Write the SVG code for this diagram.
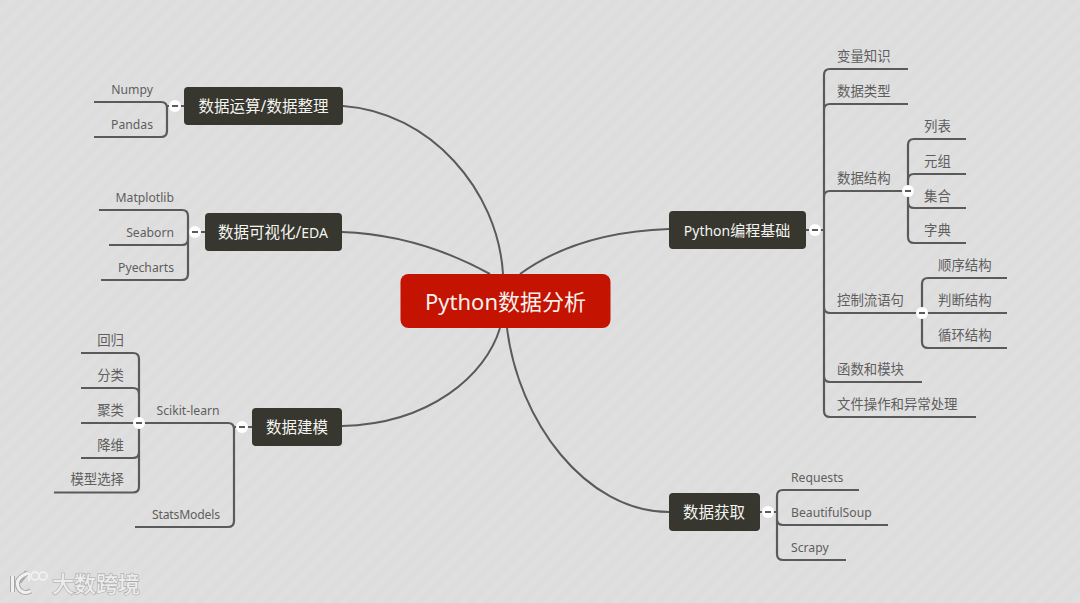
<svg xmlns="http://www.w3.org/2000/svg" width="1080" height="603" viewBox="0 0 1080 603">
<style>
text{font-family:"Noto Sans","Noto Sans CJK SC",sans-serif}
.l{fill:none;stroke:#5a5a5a;stroke-width:2.200}
.m{fill:none;stroke:#5a5a5a;stroke-width:2}
.t{font-size:13.400px;fill:#5e5e5e}
.a{font-size:12.200px;fill:#5e5e5e}
.e{text-anchor:end}
.b{fill:#37372f}
.w{font-size:15.500px;fill:#f4f4ef;text-anchor:middle}
.c{fill:#fff}
.d{stroke:#5a5a5a;stroke-width:2}
.wm{font-size:22px;font-weight:500;fill:#ececec;stroke:#a9a9a9;stroke-width:1.200;paint-order:stroke}
</style>
<defs>
<pattern id="bg" width="12" height="12" patternUnits="userSpaceOnUse" patternTransform="rotate(45)">
<rect width="12" height="12" fill="#dfdfdf"/><rect width="6" height="12" fill="#dddddd"/>
</pattern>
<g id="tg"><circle class="c" r="6"/><path class="d" d="M-3 0H3"/></g>
</defs>
<rect width="1080" height="603" fill="url(#bg)"/>
<g id="connectors">
<path class="m" d="M503 274C498 190 430 112 343 106"/>
<path class="m" d="M490 274C450 252 400 234 342 232"/>
<path class="m" d="M520 274C560 245 610 231 669 229"/>
<path class="m" d="M500 328C486 375 430 424 342 426"/>
<path class="m" d="M507 328C518 420 585 512 669 512"/>
<path class="l" d="M94 102H161Q167 102 167 108V131Q167 137 161 137H94M167 106H184"/>
<path class="l" d="M99 210H182Q188 210 188 216V274Q188 280 182 280H101M109 245H182Q188 245 188 239M188 232H205"/>
<path class="l" d="M135 527H228Q234 527 234 521V429Q234 423 228 423H81M234 427H252"/>
<path class="l" d="M81 353H133Q139 353 139 359V486.500Q139 492.500 133 492.500H54M81 388H133Q139 388 139 394M81 458H133Q139 458 139 452"/>
<path class="l" d="M908 69H830Q824 69 824 75V411Q824 417 830 417H976M908 104H830Q824 104 824 110M908 191H830Q824 191 824 197M922 313H830Q824 313 824 307M922 382H830Q824 382 824 376M806 230H824"/>
<path class="l" d="M966 139H914Q908 139 908 145V237Q908 243 914 243H966M966 174H914Q908 174 908 180M966 208H914Q908 208 908 202"/>
<path class="l" d="M1007 278H928Q922 278 922 284V342Q922 348 928 348H1007M1007 313H922"/>
<path class="l" d="M859 490H783Q777 490 777 496V554Q777 560 783 560H846M888 525H783Q777 525 777 519M760 512H777"/>
</g>
<g id="root"><rect x="400.500" y="274" width="210" height="54" rx="8" fill="#c41300"/><text x="505.500" y="310" font-size="22" fill="#f6f0ec" text-anchor="middle">Python数据分析</text></g>
<g id="n-calc"><rect class="b" x="184" y="87" width="159" height="38" rx="4"/><text class="w" x="263.500" y="112">数据运算/数据整理</text><use href="#tg" x="175" y="106"/></g>
<g id="n-viz"><rect class="b" x="205" y="213" width="137" height="38" rx="4"/><text class="w" x="273" y="238">数据可视化/<tspan font-size="14">EDA</tspan></text><use href="#tg" x="195" y="232"/></g>
<g id="n-model"><rect class="b" x="252" y="408" width="90" height="38" rx="4"/><text class="w" x="297" y="433">数据建模</text><use href="#tg" x="242" y="427"/></g>
<g id="n-base"><rect class="b" x="669" y="211" width="137" height="38" rx="4"/><text class="w" x="737" y="236" style="font-size:15px"><tspan font-size="14">Python</tspan>编程基础</text><use href="#tg" x="815" y="230"/></g>
<g id="n-get"><rect class="b" x="669" y="493" width="91" height="38" rx="4"/><text class="w" x="714" y="518">数据获取</text><use href="#tg" x="768" y="512"/></g>
<g id="n-left-leaves">
<text class="a e" x="153" y="94">Numpy</text><text class="a e" x="153" y="129">Pandas</text>
<text class="a e" x="174" y="202">Matplotlib</text><text class="a e" x="174" y="237">Seaborn</text><text class="a e" x="174" y="272">Pyecharts</text>
<text class="a" x="156.500" y="415">Scikit-learn</text><text class="a e" x="220" y="519" textLength="68">StatsModels</text>
<text class="t e" x="124" y="345">回归</text><text class="t e" x="124" y="380">分类</text><text class="t e" x="124" y="415">聚类</text><text class="t e" x="124" y="449.500">降维</text><text class="t e" x="124" y="484">模型选择</text>
<use href="#tg" x="139" y="423"/>
</g>
<g id="n-right-leaves">
<text class="t" x="837" y="61">变量知识</text><text class="t" x="837" y="95.700">数据类型</text><text class="t" x="837" y="182.700">数据结构</text><text class="t" x="837" y="304.700">控制流语句</text><text class="t" x="837" y="374">函数和模块</text><text class="t" x="837" y="408.700">文件操作和异常处理</text>
<text class="t" x="924" y="130.700">列表</text><text class="t" x="924" y="165.700">元组</text><text class="t" x="924" y="200.700">集合</text><text class="t" x="924" y="235">字典</text>
<text class="t" x="938" y="269.700">顺序结构</text><text class="t" x="938" y="304.700">判断结构</text><text class="t" x="938" y="339.700">循环结构</text>
<text class="a" x="791" y="482">Requests</text><text class="a" x="791" y="517">BeautifulSoup</text><text class="a" x="791" y="552">Scrapy</text>
<use href="#tg" x="908" y="191"/><use href="#tg" x="922" y="313"/>
</g>
<g id="watermark">
<path d="M12.500 576V592M28 573C18 577 16 582 18 587C20 592 25 594 31 591M27 572L19 582" fill="none" stroke="#a9a9a9" stroke-width="5"/>
<path d="M12.500 576V592M28 573C18 577 16 582 18 587C20 592 25 594 31 591" fill="none" stroke="#f0f0f0" stroke-width="3"/>
<path d="M29 573V581" fill="none" stroke="#f0f0f0" stroke-width="2"/>
<circle cx="35" cy="576" r="4" fill="none" stroke="#f0f0f0" stroke-width="1.800"/><circle cx="43" cy="576" r="4" fill="none" stroke="#f0f0f0" stroke-width="1.800"/>
<text class="wm" x="52" y="592">大数跨境</text>
</g>
</svg>
